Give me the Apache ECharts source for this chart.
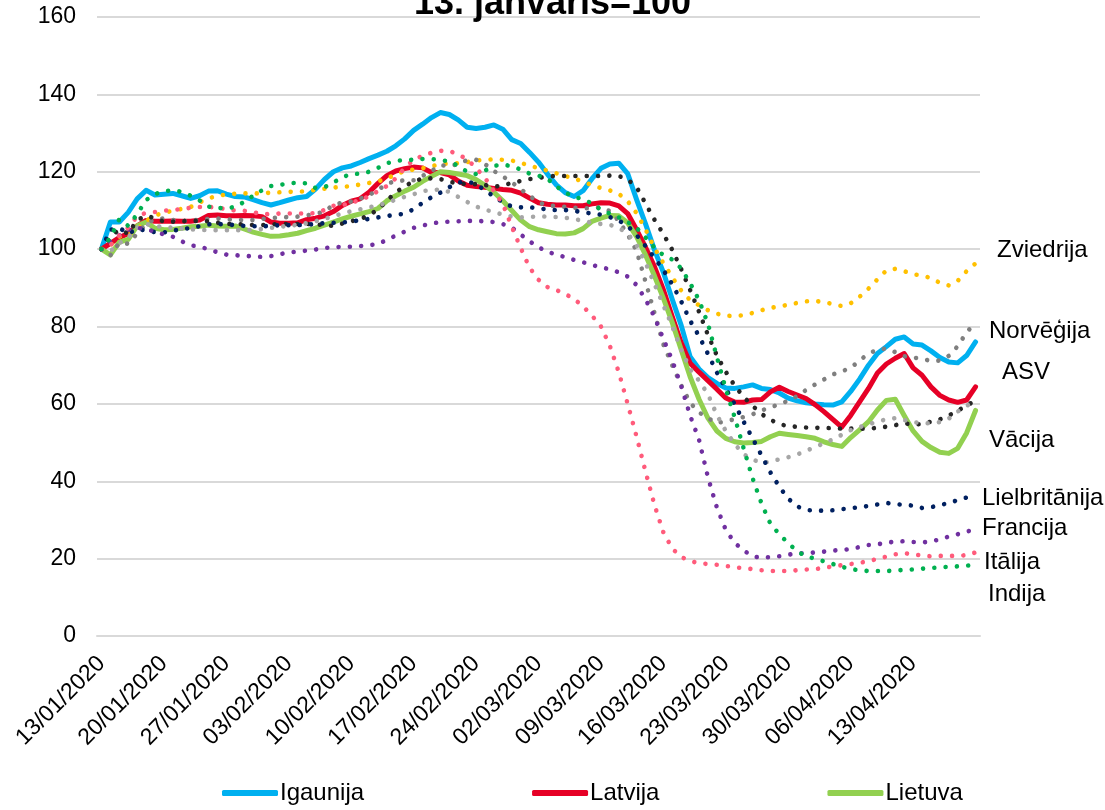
<!DOCTYPE html>
<html><head><meta charset="utf-8">
<script src="https://cdn.jsdelivr.net/npm/echarts@6/dist/echarts.min.js"></script>
<style>html,body{margin:0;padding:0;background:#fff}#c{width:1105px;height:810px}</style>
</head><body><div id="c"></div>
<script>
const dates = [
"13/01/2020","14/01/2020","15/01/2020","16/01/2020","17/01/2020","18/01/2020","19/01/2020","20/01/2020","21/01/2020","22/01/2020",
"23/01/2020","24/01/2020","25/01/2020","26/01/2020","27/01/2020","28/01/2020","29/01/2020","30/01/2020","31/01/2020",
"01/02/2020","02/02/2020","03/02/2020","04/02/2020","05/02/2020","06/02/2020","07/02/2020","08/02/2020","09/02/2020","10/02/2020",
"11/02/2020","12/02/2020","13/02/2020","14/02/2020","15/02/2020","16/02/2020","17/02/2020","18/02/2020","19/02/2020","20/02/2020",
"21/02/2020","22/02/2020","23/02/2020","24/02/2020","25/02/2020","26/02/2020","27/02/2020","28/02/2020","29/02/2020",
"01/03/2020","02/03/2020","03/03/2020","04/03/2020","05/03/2020","06/03/2020","07/03/2020","08/03/2020","09/03/2020","10/03/2020",
"11/03/2020","12/03/2020","13/03/2020","14/03/2020","15/03/2020","16/03/2020","17/03/2020","18/03/2020","19/03/2020","20/03/2020",
"21/03/2020","22/03/2020","23/03/2020","24/03/2020","25/03/2020","26/03/2020","27/03/2020","28/03/2020","29/03/2020","30/03/2020","31/03/2020",
"01/04/2020","02/04/2020","03/04/2020","04/04/2020","05/04/2020","06/04/2020","07/04/2020","08/04/2020","09/04/2020","10/04/2020",
"11/04/2020","12/04/2020","13/04/2020","14/04/2020","15/04/2020","16/04/2020","17/04/2020","18/04/2020","19/04/2020","20/04/2020"
];

const igaunija = [100,107,107,109.5,113,115.2,114,114.2,114.4,113.8,
113.1,113.8,115,115.1,114.2,113.6,113.5,112.8,112,111.4,
112,112.7,113.3,113.6,115.5,118,120,121,121.5,122.4,
123.4,124.3,125.3,126.7,128.5,130.7,132.3,134,135.3,134.8,
133.4,131.5,131.2,131.5,132.1,131,128.3,127.3,125,122.5,
119.4,116.6,114.6,113.6,115.1,118.2,120.9,122,122.2,119.5,
112.8,106.5,99.8,94,87,80.3,72.2,69,66.8,65.3,
64.1,64,64.4,64.9,64,63.7,62.8,61.5,60.8,60.3,
60,59.8,59.7,60.5,63.2,66.4,70,73,74.8,76.7,
77.3,75.5,75.2,73.7,72,70.8,70.6,72.5,76];

const latvija = [100,101.5,103,104,106,107.4,107.2,107.2,107.3,107.2,
107.2,107.5,108.7,108.8,108.6,108.6,108.7,108.6,108.4,107,
106.7,106.7,106.8,107.6,108,108.6,109.7,111.3,112.4,113,
114.7,117,119,120.2,120.8,121.2,121,119.8,119.8,119.2,
117.6,116.5,116.2,116,115.7,115.4,115.2,114.5,113.2,112,
111.6,111.4,111.4,111.2,111.2,111.7,112,111.9,111.2,109.2,
105,100.5,95.5,89.5,82.5,75.8,70.5,68.2,66,63.8,
61.5,60.5,60.4,61,61.1,63.1,64.3,63.2,62.3,61.4,
59.8,58,56,54,57,60.5,64,68,70.3,71.8,
73,69.3,67.4,64.4,62.2,61,60.4,61,64.4];

const lietuva = [100,98.5,101.8,102.5,106,107,105.4,105,105.1,105.4,
105.8,105.9,106.2,106,105.9,106,105.2,104.4,103.8,103.3,
103.4,103.7,104.1,104.8,105.4,106.2,107,107.8,108.5,109.1,
109.7,110.5,112.5,113.8,115,116,117.5,118.8,120,119.8,
119.4,119,118,116.5,114.7,112.5,110,107.5,105.8,105,
104.5,104,103.9,104.2,105.3,107.2,108,108.7,108.6,106.8,
103.2,98.5,93.1,87.3,81,74,67,61.2,56.3,53,
51.1,50.2,49.9,50,50.3,51.5,52.4,52.1,51.8,51.5,
51.1,50.2,49.5,49,51.3,53.3,55.4,58.4,60.9,61.2,
57,53,50.3,48.7,47.5,47.2,48.5,52.5,58.3];

const zviedrija = [100,101,103.2,103.8,105,107.3,108.7,109.4,109.9,110.4,
110.9,112.1,113.1,113.8,114.1,114.3,114.4,114.4,114.4,114.6,
114.7,114.8,114.8,115,115.3,115.6,115.9,116.1,116.3,116.7,
117.1,117.5,118.2,119.4,120.1,120.6,120.9,121.4,122,122.1,
122.2,122.5,122.9,123.1,123.2,123.1,122.9,122.3,121.6,120.9,
120.3,119.6,118.9,118.2,117.5,116.5,115.8,115.2,114.3,112.4,
109.3,105.1,100.3,96.4,92.7,89.3,86.8,85.5,84.2,83.3,
82.8,82.7,82.9,83.5,84.2,84.8,85.2,85.6,86.1,86.5,
86.6,86.3,85.8,85.3,86,87.7,89.8,92.2,94.5,94.9,
94.3,93.5,93.2,92.5,91.3,90.6,91.8,94.3,96.3];

const norvegija = [100,98.4,101.6,101.4,104,106.5,107.8,107.9,107.5,107.3,
107.4,107.6,107.8,107.9,107.7,107.6,107.5,107.5,107.8,108,
108.2,108.3,108.4,108.7,109.2,109.6,111.5,112,112.3,113,
114,115.2,117,117.5,117.8,117.8,118.9,120.2,121.7,121.5,
122,123,123.1,122,120.2,118.8,117.3,115.5,113.8,112.1,
111.3,111.1,110.9,110.7,110.5,110.7,110.8,109.8,107.3,103.8,
99.5,91.6,83.5,75.4,69.9,64.8,60.3,57.8,56.3,55,
55.6,56,56.6,57.3,58.3,59.1,59.9,60.8,62,63.6,
65,66.3,67.6,68.4,69.3,71.2,73,74,74.3,73.4,
72.3,72,71.6,71.1,71.2,72.4,74.9,78.5,81];

const asv = [100,103.3,105,104,107.5,108.6,108,107.1,107.1,107.2,
107.3,107.3,107.2,106.8,106.5,106.5,106.4,106.2,106.2,106.4,
106.5,106.5,106.5,106.5,106.4,106.2,106,106.6,107.2,107.8,
108.7,110.3,112.5,114.7,116.2,117.6,118.2,118.3,118.1,117.4,
117,116.8,116.8,116.6,116.1,116.5,117.1,117.6,118.1,118.4,
118.8,118.9,118.9,118.9,118.9,118.9,118.9,119,118.9,118,
116,111.8,107.6,103.9,99.8,94.8,89.4,83.8,77.8,72.5,
68.3,64.7,61.8,59.5,57.4,55.9,54.8,54.2,54.1,53.9,
53.8,53.8,53.7,53.6,53.6,53.6,53.6,53.8,54.1,54.5,
55,54.6,54.8,55.4,56,57,58.2,59.6,60.8];

const vacija = [100,99.5,101.5,103,105.5,106.5,106,105.7,105.5,105.3,
105.1,105,104.9,104.9,104.9,104.9,104.9,105,105.2,105.5,
105.8,106,106.3,106.7,107.2,107.8,108.5,109.2,109.8,110.3,
110.8,111.3,112,112.8,113.5,114.2,115,115.3,115.4,114.8,
113.5,112.2,111,110.2,109.6,108.9,108.4,108.2,108.3,108.5,
108.4,108.3,108.1,107.8,107.3,106.8,106.5,106.3,105.5,104,
101,96.5,91,85.5,80,74,69,66,62.5,57.1,
53,49.6,47,45.6,44.8,45,45.7,46.2,46.9,47.9,
48.8,49.8,50.8,52,53.2,54,54.7,55.4,56,56.3,
55.8,55.3,55,55,55.3,56.2,58,59.5,60.5];

const lielbritanija = [100,105,105.5,104,105.2,104.8,104.4,104.3,104.8,105.1,
105.5,105.9,106.4,106.5,106.4,106.2,106,105.9,105.9,106,
106.2,106.2,106.2,106.3,106.5,106.7,106.8,106.9,107.1,107.5,
107.8,108.2,108.6,108.8,109.2,110.3,112,113.4,114.6,116,
117.2,117.5,116.8,115.2,113.6,112.1,111,110.8,110.8,110.6,
110.2,110.1,110.1,109.9,109.5,109.2,108.9,108.3,107.4,106,
103.6,100.8,97.7,94.6,90.9,86.5,81.5,77.5,72.9,68.1,
63.9,59.9,55.4,51.1,46.7,42.3,38.6,35.5,33.5,32.6,
32.4,32.4,32.5,32.8,33,33.3,33.6,34,34.4,34.1,
33.9,33.7,33.1,33.3,33.8,34.4,35.1,35.8,36.3];

const francija = [100,102,103.5,105,105.5,105.2,104.5,103.8,103.2,102,
101,100.6,100,99.2,98.6,98.4,98.3,98.1,98,98.2,
98.7,99.1,99.4,99.6,99.9,100.3,100.5,100.6,100.6,100.8,
101,101.3,102.4,103.5,104.5,105.5,106.1,106.6,107,107.1,
107.2,107.3,107.3,107.2,107,106.5,105.6,103.8,102,100.5,
99.3,98.6,97.9,97.2,96.6,95.9,95.3,94.8,94,92.9,
90.7,87,82.5,76.8,71.2,64.6,57,50.7,41,33.2,
27.4,24.1,22.1,20.6,20.2,20.4,20.6,21,21.4,21.4,
21.6,21.8,22.1,22.2,22.5,23,23.5,23.7,24.1,24.4,
24.5,24.3,24.2,24.4,25,25.7,26.3,27,27.5];

const italija = [100,101,103.5,105.5,108.5,109.4,109.6,109.9,110.2,110.3,
110.7,110.9,110.9,110.8,110.3,110,109.9,109.5,109.1,109,
109.2,109.2,109.2,109.2,109.3,110.1,111.2,111.4,111.9,112.8,
113.6,115,116.3,118.3,121,123.1,124.1,124.9,125.4,125.4,
124.5,123.2,121,118.4,115,111.7,105.8,100.3,95.2,92.1,
90.2,89.4,88.4,87.1,85.2,82.8,80,75,68.2,60,
51.5,42.5,33.9,26.8,22.6,20.4,19.4,18.8,18.6,18.4,
18.1,17.8,17.5,17.3,17,16.8,16.8,16.8,17,17.2,
17.3,17.6,18,18.3,18.6,18.9,19.4,19.9,20.5,21.1,
21.4,21.1,20.8,20.6,20.7,20.7,20.7,20.9,21.6];

const indija = [100,103,107.7,106,109,112.7,114.2,115,115.2,114.8,
113.8,112.6,111,110.6,110.6,110.9,112.2,113.8,115.2,116.3,
116.6,117,117.2,117,115.8,116,117.2,118.6,119.4,119.5,
120,121,122.2,122.8,123,123.1,123.3,123.3,123,122.7,
121.5,120,119.4,120.3,121.5,121.9,121.4,120.6,119.5,119,
118.2,116.2,114.6,113.5,112.9,111.8,110.2,109.2,108.2,107,
105.5,103,100.4,98.4,97.3,95,91.2,86.8,80.7,72.1,
63.8,56.5,48.5,40.8,34.3,29,26.3,24,21.9,20.6,
20,19.3,18.6,17.9,17.3,17,16.8,16.8,16.8,16.9,
17.1,17.2,17.4,17.6,17.7,17.9,18,18.2,18.3];

const yTicks = [0, 20, 40, 60, 80, 100, 120, 140, 160];
const titleText = '13. janvāris=100';
const legendNames = ['Igaunija', 'Latvija', 'Lietuva'];
const sideLabels = ['Zviedrija', 'Norvēģija', 'ASV', 'Vācija', 'Lielbritānija', 'Francija', 'Itālija', 'Indija'];

const FONT = '"Liberation Sans", Arial, sans-serif';
const sideLabelPos = [[997,250],[989,331],[1002,372],[989,440],[982,498],[982,528],[984,562],[988,594]];

function solid(name, data, color) {
  return { name, type: 'line', data, symbol: 'none', silent: true, z: 2,
    lineStyle: { color, width: 5, cap: 'round', join: 'round' }, itemStyle: { color } };
}
function dotted(name, data, color) {
  return { name, type: 'line', data, symbol: 'none', silent: true, z: 3,
    lineStyle: { color, width: 4.6, type: [0.01, 11.3], cap: 'round' }, itemStyle: { color } };
}

const chart = echarts.init(document.getElementById('c'), null, { renderer: 'canvas' });
chart.setOption({
  animation: false,
  backgroundColor: '#fff',
  title: { text: titleText, left: 'center', top: -19,
    textStyle: { fontSize: 36, fontWeight: 'bold', fontFamily: FONT, color: '#000' } },
  grid: { left: 97, right: 125, top: 17, bottom: 174, containLabel: false, outerBoundsMode: 'none' },
  legend: { data: legendNames, left: 222, top: 781, padding: 0, itemWidth: 56, itemHeight: 6, itemGap: 168,
    icon: 'roundRect', textStyle: { fontSize: 24, fontFamily: FONT, color: '#000', padding: [0, 0, 0, -3] } },
  xAxis: { type: 'category', data: dates, boundaryGap: true,
    axisLine: { show: true, lineStyle: { color: '#D9D9D9', width: 2 } },
    axisTick: { show: false },
    axisLabel: { interval: (i) => i % 7 === 0 && i <= 91, rotate: 45, margin: 24,
      fontSize: 23, fontFamily: FONT, color: '#000' },
    splitLine: { show: false } },
  yAxis: { type: 'value', min: yTicks[0], max: yTicks[yTicks.length - 1], interval: yTicks[1] - yTicks[0],
    axisLine: { show: false }, axisTick: { show: false },
    axisLabel: { fontSize: 23, margin: 21, color: '#000', fontFamily: FONT },
    splitLine: { lineStyle: { color: '#D9D9D9', width: 2 } } },
  graphic: sideLabels.map((t, k) => ({ type: 'text', x: sideLabelPos[k][0], y: sideLabelPos[k][1], silent: true,
    style: { text: t, font: '24px ' + FONT, fill: '#000', textVerticalAlign: 'middle', verticalAlign: 'middle' } })),
  series: [
    solid('Igaunija', igaunija, '#00B0F0'),
    solid('Latvija', latvija, '#E60026'),
    solid('Lietuva', lietuva, '#92D050'),
    dotted('Zviedrija', zviedrija, '#FFC000'),
    dotted('Norvēģija', norvegija, '#7F7F7F'),
    dotted('ASV', asv, '#262626'),
    dotted('Vācija', vacija, '#A6A6A6'),
    dotted('Lielbritānija', lielbritanija, '#002060'),
    dotted('Francija', francija, '#7030A0'),
    dotted('Itālija', italija, '#FF5B7B'),
    dotted('Indija', indija, '#00B050')
  ]
});
</script></body></html>
